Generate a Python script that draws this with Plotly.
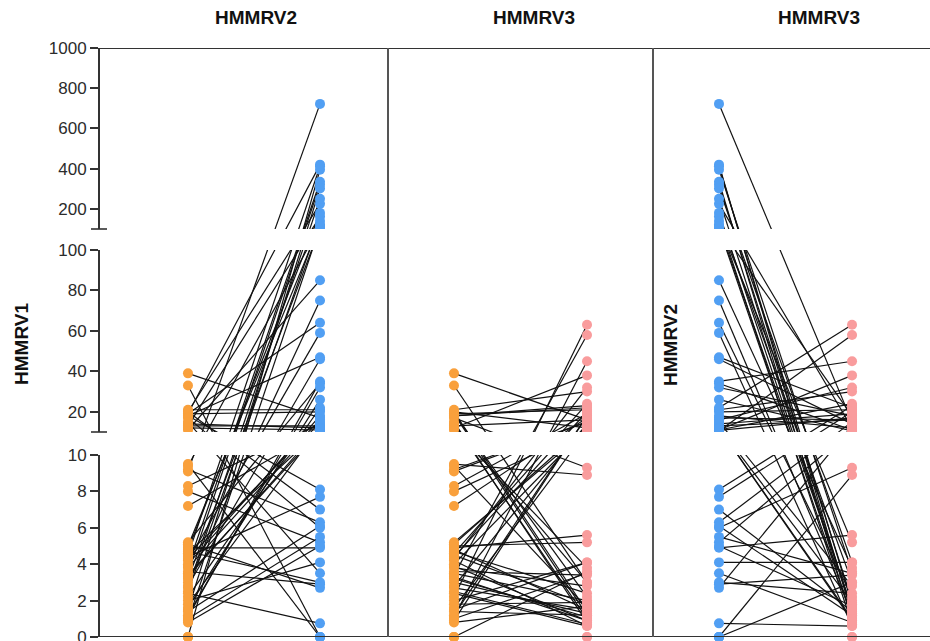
import plotly.graph_objects as go

# Paired measurements, one entry per subject (same order in every list)
hmmrv1 = [9.1, 19, 4.5, 0, 3.9, 3.5, 1.5, 20, 4.8, 13, 2.5, 5.0, 0.9, 3.2, 9.4,
          11, 3.0, 19, 4.2, 18, 2.8, 1.1, 5.2, 1.2, 1.6, 21, 19, 39, 3.8, 13,
          14, 12, 4.6, 3.4, 2.2, 8.3, 1.8, 4.0, 7.2, 4.3,
          18, 4.4, 20, 9.2, 17, 1.0, 8.0, 0.8, 4.9, 2.0, 15, 3.6, 5.1, 2.4,
          0, 33, 0, 9.5, 1.4, 3.3, 2.7, 4.7]
hmmrv2 = [722, 420, 412, 395, 335, 320, 302, 225, 180, 162, 140, 122, 110, 105, 115,
          85, 75, 64, 59, 47, 46, 35, 34, 32, 26, 21, 20, 17, 15, 13,
          12, 11, 11, 10.5, 22, 14, 12.5, 18, 10.8, 16,
          8.1, 7.7, 7.0, 6.3, 6.0, 5.5, 5.2, 5.0, 4.9, 4.1, 3.5, 2.9, 2.7, 0.75,
          0, 0, 0, 0, 6.1, 12, 250, 3.0]
hmmrv3 = [15, 1.2, 1.8, 3.6, 0.9, 2.0, 4.1, 12, 1.5, 3.0, 0.7, 5.2, 18, 1.1, 1.6,
          3.8, 1.3, 2.2, 0.6, 22, 14, 45, 11, 18, 10.5, 30, 21, 16, 2.8, 16,
          1.0, 38, 24, 58, 63, 19, 1.9, 12, 17, 32,
          23, 20, 1.4, 15, 9.3, 3.5, 11, 1.7, 5.6, 4.1, 0.8, 3.4, 13, 0.6,
          0, 3.0, 0, 8.9, 1.2, 0.9, 1.5, 2.4]

panel_titles = ["HMMRV2", "HMMRV3", "HMMRV3"]
axis_titles = ["HMMRV1", "HMMRV2"]
lower_ticks = [0, 2, 4, 6, 8, 10]
middle_ticks = [20, 40, 60, 80, 100]
upper_ticks = [200, 400, 600, 800, 1000]

ORANGE = "#F9A03C"
BLUE = "#519FF3"
PINK = "#F99C9D"

# Broken y axis: three linear segments (0-10, 10-100, 100-1000) stacked with gaps
SEG_LO, GAP_LO, SEG_MID, GAP_HI, SEG_HI = 182.0, 23.0, 182.0, 21.0, 181.0
MID0 = SEG_LO + GAP_LO
HI0 = MID0 + SEG_MID + GAP_HI
TOP = HI0 + SEG_HI


def broken(v):
    if v <= 10:
        return v / 10.0 * SEG_LO
    if v <= 100:
        return MID0 + (v - 10) / 90.0 * SEG_MID
    return HI0 + (v - 100) / 900.0 * SEG_HI


W, H = 930, 641
ML, MR, MT, MB = 99, 0, 48, 4
PW = W - ML - MR
PH = H - MT - MB


def px_to_paper_x(px):
    return (px - ML) / PW


def px_to_paper_y(py):
    return (H - MB - py) / PH


# column boundaries (px) and x ranges so both groups sit at 0 and 1
col_edges = [99, 388, 653, 930]
col_ranges = [[-0.674, 1.515], [-0.496, 1.496], [-0.496, 1.586]]
panels = [
    (hmmrv1, hmmrv2, ORANGE, BLUE),
    (hmmrv1, hmmrv3, ORANGE, PINK),
    (hmmrv2, hmmrv3, BLUE, PINK),
]

fig = go.Figure()
xnames = ["x", "x2", "x3"]
for i, (left, right, cl, cr) in enumerate(panels):
    xs, ys = [], []
    for a, b in zip(left, right):
        xs += [0, 1, None]
        ys += [broken(a), broken(b), None]
    fig.add_trace(go.Scatter(x=xs, y=ys, mode="lines", xaxis=xnames[i], yaxis="y",
                             line=dict(color="#111111", width=1.2),
                             hoverinfo="skip", showlegend=False))
    fig.add_trace(go.Scatter(x=[0] * len(left), y=[broken(v) for v in left],
                             mode="markers", xaxis=xnames[i], yaxis="y",
                             marker=dict(color=cl, size=10, line=dict(width=0)),
                             cliponaxis=False, showlegend=False))
    fig.add_trace(go.Scatter(x=[1] * len(right), y=[broken(v) for v in right],
                             mode="markers", xaxis=xnames[i], yaxis="y",
                             marker=dict(color=cr, size=10, line=dict(width=0)),
                             cliponaxis=False, showlegend=False))

tick_vals = [broken(v) for v in lower_ticks + middle_ticks + upper_ticks]
tick_text = [str(v) for v in lower_ticks + middle_ticks + upper_ticks]

layout = dict(
    width=W, height=H,
    margin=dict(l=ML, r=MR, t=MT, b=MB),
    paper_bgcolor="white", plot_bgcolor="white",
    showlegend=False,
    font=dict(family="Liberation Sans, Arial, sans-serif", color="#2b2b2b"),
    yaxis=dict(domain=[0, 1], range=[0, TOP], anchor="x", automargin=False,
               tickvals=tick_vals, ticktext=tick_text,
               ticks="outside", ticklen=8, tickwidth=1.6, tickcolor="#333333",
               tickfont=dict(size=17, color="#2b2b2b"),
               ticklabeloverflow="allow",
               showline=False, showgrid=False, zeroline=False, fixedrange=True),
)
for i in range(3):
    key = "xaxis" if i == 0 else f"xaxis{i + 1}"
    layout[key] = dict(domain=[px_to_paper_x(col_edges[i]), px_to_paper_x(col_edges[i + 1])],
                       range=col_ranges[i], anchor="y", visible=False, fixedrange=True)
fig.update_layout(**layout)

shapes = []
# blank the gaps between axis segments
for y0, y1 in [(SEG_LO, MID0), (MID0 + SEG_MID, HI0)]:
    shapes.append(dict(type="rect", xref="paper", yref="y", x0=0, x1=1, y0=y0, y1=y1,
                       fillcolor="white", line=dict(width=0), layer="above"))
# left axis line, one piece per segment
for y0, y1 in [(0, SEG_LO), (MID0, MID0 + SEG_MID), (HI0, TOP)]:
    shapes.append(dict(type="line", xref="paper", yref="y", x0=0, x1=0, y0=y0, y1=y1,
                       line=dict(color="#333333", width=2), layer="above"))
# break marks at the lower end of the upper two segments
for yb in [MID0, HI0]:
    shapes.append(dict(type="line", xref="paper", yref="y",
                       x0=px_to_paper_x(91), x1=px_to_paper_x(107), y0=yb, y1=yb,
                       line=dict(color="#333333", width=1.6), layer="above"))
# frame: top and bottom rules, column dividers
for yb in [0, TOP]:
    shapes.append(dict(type="line", xref="paper", yref="y", x0=0, x1=1, y0=yb, y1=yb,
                       line=dict(color="#333333", width=2), layer="above"))
for px in col_edges[1:3]:
    shapes.append(dict(type="line", xref="paper", yref="paper",
                       x0=px_to_paper_x(px), x1=px_to_paper_x(px), y0=0, y1=1,
                       line=dict(color="#555555", width=2), layer="above"))
fig.update_layout(shapes=shapes)

annotations = []
title_centers = [256, 534, 819]
for t, cx in zip(panel_titles, title_centers):
    annotations.append(dict(text=f"<b>{t}</b>", xref="paper", yref="paper",
                            x=px_to_paper_x(cx), y=px_to_paper_y(18),
                            xanchor="center", yanchor="middle", showarrow=False,
                            font=dict(size=19, color="#111111")))
for t, cx, cy in [(axis_titles[0], 21, 344), (axis_titles[1], 670, 345)]:
    annotations.append(dict(text=f"<b>{t}</b>", xref="paper", yref="paper",
                            x=px_to_paper_x(cx), y=px_to_paper_y(cy), textangle=-90,
                            xanchor="center", yanchor="middle", showarrow=False,
                            font=dict(size=19, color="#111111")))
fig.update_layout(annotations=annotations)

fig.write_html("out.html")
